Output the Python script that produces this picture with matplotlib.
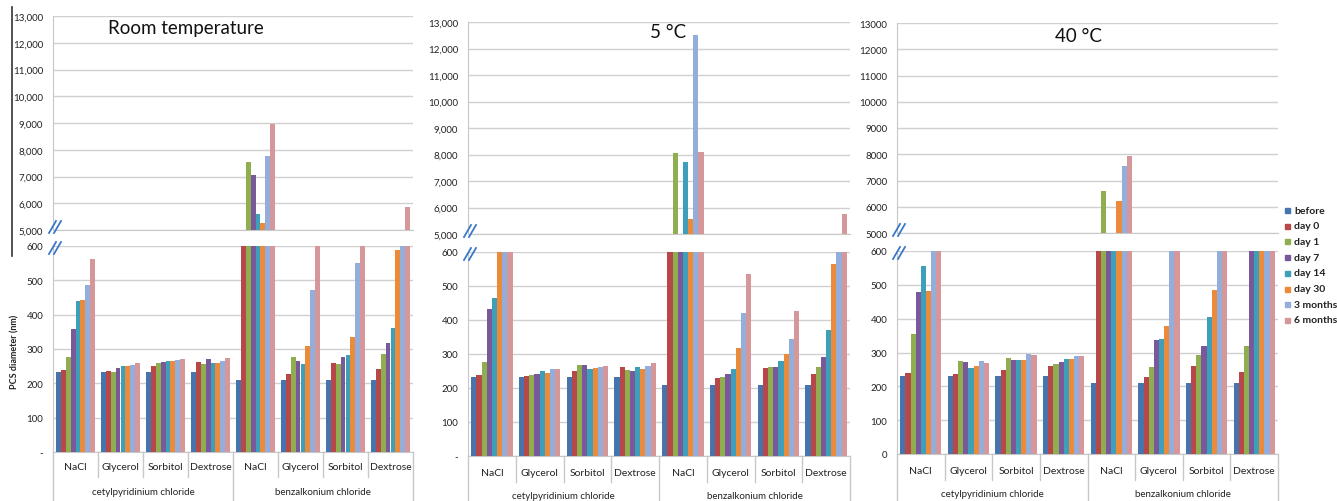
import matplotlib.pyplot as plt
import matplotlib.transforms as mtransforms
from matplotlib.lines import Line2D
from matplotlib.patches import Rectangle

plt.rcParams['font.family'] = ['Lato', 'DejaVu Sans']

W, H = 1337, 502

categories = ['NaCl', 'Glycerol', 'Sorbitol', 'Dextrose',
              'NaCl', 'Glycerol', 'Sorbitol', 'Dextrose']
groups = ['cetylpyridinium chloride', 'benzalkonium chloride']
series = ['before', 'day 0', 'day 1', 'day 7', 'day 14', 'day 30',
          '3 months', '6 months']
colors = ['#4675AE', '#B8474A', '#8FAE50', '#79599A', '#3E9FBA',
          '#EC8A3C', '#93AEDA', '#D5979A']

# rows = series, columns = categories (values in nm)
room_temp = [
    [232, 232, 232, 232, 210, 210, 210, 210],
    [239, 236, 250, 261, 2000, 228, 260, 242],
    [278, 234, 260, 255, 7550, 276, 255, 286],
    [358, 245, 262, 272, 7050, 264, 277, 318],
    [440, 250, 265, 258, 5600, 255, 283, 361],
    [444, 251, 264, 260, 5250, 310, 335, 587],
    [487, 252, 268, 266, 7750, 473, 551, 2000],
    [563, 260, 272, 275, 8950, 1500, 1500, 5850],
]
temp_5c = [
    [233, 233, 233, 233, 210, 210, 210, 210],
    [238, 236, 249, 262, 2000, 228, 258, 242],
    [277, 237, 268, 254, 8050, 233, 263, 262],
    [433, 240, 268, 251, 3000, 240, 262, 292],
    [466, 249, 257, 261, 7700, 255, 280, 372],
    [1000, 245, 258, 255, 5580, 318, 299, 566],
    [1500, 255, 262, 264, 12500, 421, 343, 2000],
    [1500, 255, 266, 274, 8080, 536, 427, 5750],
]
temp_40c = [
    [232, 232, 232, 232, 210, 210, 210, 210],
    [239, 236, 249, 261, 2000, 228, 259, 242],
    [355, 275, 283, 267, 6600, 258, 294, 320],
    [480, 271, 279, 272, 3000, 336, 320, 2000],
    [555, 254, 279, 280, 3000, 341, 406, 2000],
    [483, 260, 279, 280, 6230, 378, 484, 2000],
    [1500, 275, 296, 289, 7550, 1500, 1500, 2000],
    [2000, 268, 294, 291, 7950, 1500, 1500, 2000],
]

upper_ticks = list(range(5000, 13001, 1000))
lower_ticks = list(range(0, 601, 100))

fig = plt.figure(figsize=(W / 100, H / 100), dpi=100)


def px_axes(x0, y0, x1, y1):
    return fig.add_axes([x0 / W, 1 - y1 / H, (x1 - x0) / W, (y1 - y0) / H])


def fig_line(xs, ys, **kw):
    fig.add_artist(Line2D([x / W for x in xs], [1 - y / H for y in ys],
                          transform=fig.transFigure, **kw))


def break_mark(x, y):
    for dx in (-2.5, 2.5):
        fig_line([x + dx - 3.5, x + dx + 3.5], [y + 6, y - 6],
                 color='#3C78C8', lw=1.3)


def fmt(v, commas):
    if v == 0:
        return '-' if commas else '0'
    return f'{v:,}' if commas else str(v)


def panel(data, x0, x1, up, low, cat_y, grp_y, commas, title, title_xy):
    ax_up = px_axes(x0, up[0], x1, up[1])
    ax_low = px_axes(x0, low[0], x1, low[1])
    w = 0.108
    for ax, lim, ticks in ((ax_up, (5000, 13000), upper_ticks),
                           (ax_low, (0, 600), lower_ticks)):
        for j, vals in enumerate(data):
            xs = [i + (j - 3.5) * w for i in range(len(categories))]
            ax.bar(xs, vals, width=w, color=colors[j], zorder=3)
        ax.set_xlim(-0.5, 7.5)
        ax.set_ylim(*lim)
        ax.set_yticks(ticks)
        ax.set_yticklabels([fmt(t, commas) for t in ticks])
        ax.tick_params(axis='y', length=0, pad=7, labelsize=7,
                       labelcolor='#222222')
        ax.set_xticks([])
        ax.grid(axis='y', color='#D0D0D0', lw=1, zorder=0)
        for s in ('top', 'right'):
            ax.spines[s].set_visible(False)
        ax.spines['left'].set_color('#C8C8C8')
        ax.spines['bottom'].set_color('#C8C8C8')
        ax.set_facecolor('none')

    # category axis separators and labels
    tr = mtransforms.blended_transform_factory(ax_low.transData,
                                               fig.transFigure)
    y_axis = 1 - low[1] / H
    for k in range(9):
        bottom = H if k in (0, 4, 8) else cat_y + 10
        ax_low.add_line(Line2D([k - 0.5, k - 0.5], [y_axis, 1 - bottom / H],
                               transform=tr, color='#C8C8C8', lw=1,
                               clip_on=False))
    for i, c in enumerate(categories):
        ax_low.text(i, 1 - cat_y / H, c, transform=tr, ha='center',
                    va='center', fontsize=7.5, color='#222222')
    for g, name in enumerate(groups):
        ax_low.text(1.5 + 4 * g, 1 - grp_y / H, name, transform=tr,
                    ha='center', va='center', fontsize=7, color='#222222')

    break_mark(x0 + 2, up[1] - 3)
    break_mark(x0 + 2, low[0] + 2)
    fig.text(title_xy[0] / W, 1 - title_xy[1] / H, title, fontsize=13.5,
             ha='left', va='center', color='#111111')


panel(room_temp, 53, 413, (17, 231), (247, 453), 468, 493, True,
      'Room temperature', (108, 29))
panel(temp_5c, 468, 850, (23, 235), (253, 457), 473, 497, True,
      '5 °C', (650, 33))
panel(temp_40c, 897, 1278, (24, 234), (252, 455), 471, 495, False,
      '40 °C', (1055, 36))

# stray frame line at the far left of the first panel
fig_line([12, 12], [8, 257], color='#333333', lw=1.2)

fig.text(15 / W, 1 - 352 / H, 'PCS diameter (nm)', rotation=90,
         ha='center', va='center', fontsize=6.5, fontweight='bold',
         color='#222222')

# legend
for j, name in enumerate(series):
    y = 211 + j * 15.7
    fig.add_artist(Rectangle(((1285) / W, 1 - (y + 3) / H), 5 / W, 5 / H,
                             transform=fig.transFigure, color=colors[j]))
    fig.text(1294 / W, 1 - y / H, name, fontsize=7.5, fontweight='bold',
             ha='left', va='center', color='#222222')

fig.savefig('out.png', dpi=100, facecolor='white')
